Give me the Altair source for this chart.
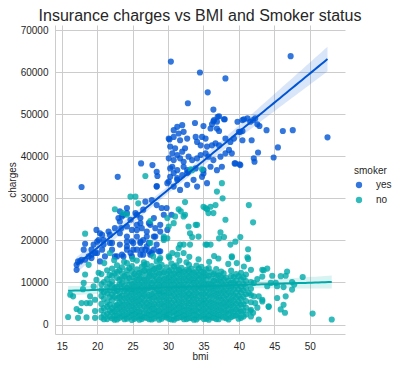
import altair as alt
import numpy as np
import pandas as pd

# ---- data (bmi, charges) ----
smoker_high = [
    (30.4, 62500), (34.5, 59900), (38.1, 58500), (47.3, 63800), (35.6, 55200), (32.8, 52600), (36.4, 51100),
    (37.0, 49400), (37.9, 48800), (36.5, 48600), (39.8, 48200), (40.5, 48600), (41.2, 49000), (42.0, 48600),
    (42.9, 47200), (43.9, 46200), (46.2, 46000), (47.6, 46200), (52.5, 44500), (45.5, 42100), (44.9, 39700),
    (42.7, 40900), (42.1, 39500), (42.2, 38700), (41.8, 43800), (40.5, 43800), (40.5, 46000), (40.2, 45800),
    (39.4, 38300), (40.1, 38100), (26.2, 38300), (27.8, 37900), (30.2, 44000),
    (37.2, 49500), (38.0, 48800), (36.9, 48200), (36.4, 48300), (36.2, 47600),
    (40.7, 48800), (41.6, 48200), (42.3, 49000), (42.6, 47600),
    (33.8, 47900), (35.0, 47200), (36.0, 46600), (36.9, 46600), (37.2, 46000),
    (31.3, 47000), (32.0, 47400), (30.8, 46200), (32.2, 45800), (31.5, 45400),
    (30.1, 44200), (30.8, 44600), (31.7, 43800), (32.7, 44200),
    (33.9, 44600), (34.8, 44600), (35.3, 44200), (34.1, 43400), (34.6, 42600), (35.5, 42300), (36.2, 42600),
    (36.7, 43100), (37.2, 42600), (38.1, 44200), (38.8, 43400), (39.3, 44200), (40.0, 45800),
    (30.3, 42300), (31.0, 41900), (30.6, 40700), (31.3, 40300), (32.0, 41100), (32.4, 41900),
    (30.1, 39500), (30.8, 39100), (31.7, 39500), (32.2, 38700), (32.9, 39900), (33.4, 39100), (34.1, 39500),
    (34.6, 40300), (35.3, 40700), (35.7, 39900), (36.4, 39100), (37.4, 39900), (38.1, 40700), (38.6, 41500),
    (39.0, 40700), (39.5, 38300), (40.2, 37900), (28.4, 36300),
    (30.6, 37500), (31.3, 36700), (32.2, 37500), (32.9, 36300), (33.9, 37100), (35.0, 36700), (36.0, 37500),
    (36.9, 36700), (37.6, 37500),
    (30.3, 35100), (31.3, 34400), (32.7, 36000), (33.6, 34400), (34.8, 35100), (29.9, 33600), (30.8, 32800),
    (31.7, 32000), (32.7, 33200), (34.1, 32800), (35.5, 33600), (35.0, 35900),
    (28.4, 32800), (30.1, 34000), (31.3, 34800), (30.8, 36000), (32.0, 35500), (32.7, 36700), (30.3, 37100),
]

smoker_low = [
    (17.8, 32700), (22.9, 35100), (28.5, 35300), (28.4, 32900),
    (23.2, 26900), (24.2, 26500), (23.5, 25700), (24.7, 24900), (26.1, 25300), (25.4, 26500),
    (19.9, 22500), (20.4, 21700), (21.6, 22100), (18.3, 19200), (19.5, 19000), (19.2, 17800), (20.2, 20100),
    (20.9, 20100), (21.8, 19400), (22.1, 17800), (20.7, 17800), (18.1, 17800),
    (17.3, 15000), (17.1, 14200), (17.8, 15400), (18.8, 16200), (20.0, 17000), (21.1, 16200), (22.5, 16200),
    (23.2, 24500), (24.2, 23300), (24.9, 22500), (25.6, 23700), (26.3, 22900), (27.0, 22100), (27.5, 23700),
    (23.2, 21700), (24.2, 20900), (24.9, 19800), (25.6, 20900), (26.5, 20100), (27.3, 19400), (28.2, 20900),
    (28.9, 22100), (29.4, 20500), (29.9, 22500), (24.2, 18600), (25.1, 17800), (26.3, 17800), (27.3, 17400),
    (28.0, 17800), (28.9, 17400), (27.0, 18600), (26.1, 19400), (23.7, 16200), (24.9, 16200),
    (24.2, 27700), (23.0, 25300), (23.7, 26100), (25.6, 26100), (26.5, 27300), (26.8, 29200), (27.7, 29600),
    (28.4, 28400), (29.1, 27700), (29.8, 27700), (30.5, 26100), (29.4, 26100), (28.0, 25300), (26.1, 24100),
    (27.3, 24100), (28.2, 22900), (28.9, 23700), (22.5, 22900), (23.4, 22900), (25.6, 22500), (20.7, 21300),
    (21.8, 21300), (20.0, 19700), (20.9, 19000), (22.1, 19400), (23.2, 19000), (24.2, 19700), (25.1, 19400),
    (26.1, 19700), (27.0, 20900), (28.0, 20900), (28.4, 19000), (26.8, 17800), (25.6, 17800), (24.2, 17800),
    (23.5, 16600), (26.1, 16600), (27.5, 16600), (20.4, 15000), (19.7, 17000), (19.2, 15800),
    (17.1, 13000), (17.6, 15000), (18.3, 15400), (19.2, 16600), (22.8, 16200), (24.7, 17000), (26.5, 16600),
    (27.7, 17000), (28.7, 17400),
]

# non-smoker main band: (bmi, [charges ...]) read column by column
nonsmoker_columns = [
    (20.6, [1700, 3400, 4900, 6800, 8200, 9600, 12000]),
    (21.4, [1300, 2600, 4200, 5300, 7400, 8900, 10800, 12900]),
    (22.1, [1500, 2900, 3900, 5800, 7100, 9300, 10200, 11600, 13300]),
    (22.8, [1200, 2200, 3600, 4700, 6200, 8000, 9000, 11100, 12500, 14100]),
    (23.5, [1900, 3100, 4400, 5600, 6900, 8500, 9800, 10900, 12200, 13600]),
    (24.2, [1400, 2500, 3800, 5100, 6400, 7600, 8800, 10400, 11800, 12900, 14600]),
    (24.9, [1100, 2300, 3300, 4600, 6000, 7300, 8400, 9700, 11300, 12600, 13900]),
    (25.6, [1700, 2900, 4100, 5400, 6600, 7900, 9200, 10600, 11700, 13100, 15200]),
    (26.3, [1300, 2000, 3500, 4900, 6200, 7400, 8700, 10000, 11200, 12400, 13700]),
    (27.0, [1600, 2700, 4000, 5200, 6700, 8100, 9400, 10700, 12000, 13300, 14400]),
    (27.7, [1200, 2400, 3700, 4800, 6100, 7300, 8800, 9900, 11400, 12700, 13900]),
    (28.4, [1900, 3100, 4300, 5700, 6900, 8300, 9600, 10900, 12300, 13500, 15000]),
    (29.1, [1400, 2600, 3800, 5000, 6400, 7700, 9100, 10300, 11600, 12900, 14200]),
    (29.8, [1700, 2200, 3300, 4600, 5900, 7200, 8500, 9800, 11000, 12200, 13600]),
    (30.5, [1200, 2800, 4000, 5300, 6700, 8000, 9400, 10600, 11900, 13100, 14500]),
    (31.2, [1500, 2500, 3600, 4900, 6300, 7600, 8900, 10200, 11500, 12800, 14100]),
    (31.9, [1800, 3000, 4300, 5600, 7000, 8300, 9600, 11000, 12300, 13500]),
    (32.6, [1300, 2400, 3700, 5100, 6500, 7800, 9000, 10400, 11700, 13000, 14800]),
    (33.3, [1600, 2900, 4100, 5400, 6800, 8100, 9500, 10800, 12100, 13300]),
    (34.0, [1200, 2200, 3500, 4800, 6100, 7500, 8800, 10100, 11400, 12600, 14000]),
    (34.7, [1900, 3200, 4500, 5800, 7200, 8600, 9900, 11200, 12500, 13700]),
    (35.4, [1400, 2600, 3900, 5200, 6600, 7900, 9300, 10600, 11800, 13100]),
    (36.1, [1700, 3000, 4300, 5600, 7000, 8400, 9700, 11000, 12400]),
    (36.8, [1300, 2500, 3800, 5100, 6500, 7800, 9100, 10500, 11800, 13200]),
    (37.5, [2000, 3400, 4700, 6000, 7400, 8700, 10100, 11300, 12600]),
    (38.2, [1500, 2800, 4200, 5500, 6900, 8200, 9600, 11100]),
    (38.9, [1800, 3200, 4600, 5900, 7300, 8700, 10000, 11500, 12800]),
    (39.6, [2200, 3600, 5000, 6400, 7700, 9200, 10500, 12000]),
    (40.3, [1600, 3100, 4700, 6100, 7600, 9000, 10800, 12300]),
    (41.0, [2400, 4000, 5600, 7200, 8700, 10300, 11900]),
    (41.7, [1900, 3500, 5300, 7000, 8500, 10100, 13000]),
]

nonsmoker_columns_b = [
    (20.95, [1250, 2350, 3900, 6100, 7600, 10100]),
    (21.75, [1900, 3300, 4700, 6500, 8100, 9700, 11800]),
    (22.45, [1150, 2100, 3200, 4500, 6600, 7900, 8700, 12200]),
    (23.15, [1600, 2700, 4000, 5200, 6500, 7500, 9500, 10700, 12900]),
    (23.85, [1250, 2200, 3500, 4800, 6300, 7800, 9200, 11500]),
    (24.55, [1800, 2900, 4300, 5600, 6900, 8300, 9500, 11000, 13400]),
    (25.25, [1350, 2500, 3700, 5000, 6300, 7700, 9000, 10300, 12000]),
    (25.95, [1150, 2200, 3100, 4500, 5800, 7100, 8300, 9600, 11000, 12300]),
    (26.65, [1700, 2800, 4200, 5600, 6900, 8100, 9400, 10700, 12800, 14200]),
    (27.35, [1250, 2300, 3400, 4600, 5900, 7000, 8700, 10100, 11400, 12600]),
    (28.05, [1450, 2600, 3600, 4900, 6400, 7700, 8900, 10300, 11700, 13200]),
    (28.75, [1150, 2200, 3300, 4700, 6000, 7300, 8000, 9300, 10600, 12100, 13700]),
    (29.45, [1850, 3000, 4300, 5500, 6800, 7900, 9500, 10800, 12400]),
    (30.15, [1350, 2400, 3500, 4700, 6000, 7400, 8700, 10100, 11300, 12700]),
    (30.85, [1150, 2000, 3100, 4300, 5700, 7000, 8300, 9500, 10800, 12100, 13800]),
    (31.55, [1650, 2800, 4000, 5300, 6600, 7900, 9200, 10500, 11900, 13000]),
    (32.25, [1250, 2200, 3300, 4500, 5900, 7200, 8500, 9800, 11100, 12500]),
    (32.95, [1500, 2600, 3900, 5100, 6300, 7400, 8800, 10200, 11500, 12800, 14200]),
    (33.65, [1150, 2300, 3400, 4700, 6000, 7200, 8500, 9900, 11000, 12300]),
    (34.35, [1700, 2900, 4100, 5300, 6700, 8000, 9300, 10700, 11900, 13300]),
    (35.05, [1300, 2300, 3600, 4900, 6000, 7300, 8600, 9900, 11300, 12400]),
    (35.75, [1150, 2100, 3300, 4600, 5900, 7200, 8500, 9700, 11600, 13400]),
    (36.45, [1600, 2700, 4000, 5300, 6700, 8000, 9200, 10400, 12000]),
    (37.15, [1250, 2300, 3500, 4800, 6200, 7500, 8900, 10300, 11700]),
    (37.85, [1700, 2900, 4100, 5300, 6600, 8000, 9400, 10800, 12200]),
    (38.55, [1200, 2400, 3600, 4900, 6200, 7600, 9000, 10400]),
    (39.25, [2000, 3100, 4400, 5700, 7000, 8400, 9900, 11300]),
    (39.95, [1400, 2700, 4000, 5400, 6800, 8300, 9700, 11500]),
    (40.65, [1900, 3300, 4800, 6600, 8100, 9600, 11200]),
]

nonsmoker_left = [
    (15.9, 1800), (17.1, 3700), (17.6, 3200), (17.3, 1600), (18.5, 1700), (17.8, 5100), (18.5, 5100),
    (19.0, 5100), (18.3, 11900), (18.1, 9900), (18.8, 14200), (20.2, 12300), (19.5, 9100), (19.0, 6700),
    (19.7, 5900), (19.7, 3200), (19.7, 1600), (16.6, 6700), (16.2, 7100), (18.0, 8400), (19.9, 10600),
]

nonsmoker_right = [
    (41.2, 16000), (39.0, 16000), (43.5, 12900), (44.0, 13300), (44.7, 11600), (46.6, 11600), (46.8, 12600),
    (49.0, 11300), (47.5, 10100), (47.8, 9500), (47.5, 8300), (45.4, 9100), (46.3, 8900), (44.0, 9100),
    (45.4, 6300), (46.6, 6700), (46.3, 4700), (45.9, 3600), (46.5, 2800), (44.2, 4200), (43.3, 5900),
    (42.3, 5100), (42.8, 1200), (50.4, 2600), (53.1, 1200), (42.6, 4000), (41.6, 3200), (42.1, 6700),
    (41.4, 7500), (42.1, 9900), (42.6, 10800), (43.3, 11400), (45.2, 9900), (44.5, 9900), (43.3, 13000),
    (45.9, 11500), (42.0, 2800), (42.8, 6700), (43.3, 5500), (44.2, 4300),
]

nonsmoker_upper = [
    (21.0, 14600), (22.4, 15300), (23.8, 14900), (25.0, 15600), (26.6, 14800), (27.9, 16200), (28.8, 15400),
    (30.2, 15900), (31.6, 15200), (33.0, 16100), (34.3, 15500), (35.8, 14900), (37.1, 15700), (38.5, 14400),
    (36.5, 16300),
    (26.8, 35300), (24.7, 30400), (25.4, 30400), (25.8, 28800), (22.5, 27400), (23.6, 26500), (24.2, 26100),
    (27.5, 24600), (29.9, 25300), (32.4, 29100), (31.5, 27400), (31.8, 26900), (31.0, 25700), (32.2, 25700),
    (32.9, 23300), (33.9, 23700), (33.1, 21700), (33.4, 20800), (32.2, 19000), (31.5, 18200), (35.0, 28000),
    (35.5, 27400), (35.5, 19000), (30.1, 23300), (29.9, 20500), (29.4, 20100), (27.5, 19400), (18.3, 21600),
    (37.6, 33600), (36.9, 31600), (37.7, 30000), (35.3, 27700), (36.0, 28000), (36.7, 28400), (36.4, 26500),
    (35.7, 26500), (41.4, 28400), (42.0, 24300), (38.1, 24900), (37.4, 21900), (37.9, 20800), (37.2, 20500),
    (40.2, 20800), (39.5, 19700), (38.8, 19000), (36.0, 19000), (35.3, 19000), (41.3, 17900), (41.3, 15600),
    (40.7, 13800), (39.7, 14600), (39.0, 16200), (33.2, 36900), (34.8, 36900), (33.4, 36700),
    (32.4, 26100), (34.1, 23700), (30.8, 24100), (29.4, 20900), (31.7, 19000), (34.3, 20900), (33.1, 19000),
    (31.3, 16600), (30.1, 16200), (30.6, 17000), (32.2, 17000), (28.9, 15800), (21.8, 17000),
]

groups = ["yes", "no"]
palette = ["#0055d4", "#00aaaa"]

rows = [{"bmi": b, "charges": c, "smoker": "yes"} for b, c in smoker_high + smoker_low]
ns = [(b, c) for b, cs in nonsmoker_columns + nonsmoker_columns_b for c in cs]
ns += nonsmoker_left + nonsmoker_right + nonsmoker_upper
rows += [{"bmi": b, "charges": c, "smoker": "no"} for b, c in ns]
df = pd.DataFrame(rows)


def fit_frame(sub):
    x = sub["bmi"].to_numpy(float)
    y = sub["charges"].to_numpy(float)
    n = len(x)
    slope, icpt = np.polyfit(x, y, 1)
    resid = y - (icpt + slope * x)
    s = np.sqrt((resid ** 2).sum() / (n - 2))
    xm = x.mean()
    sxx = ((x - xm) ** 2).sum()
    grid = np.linspace(x.min(), x.max(), 80)
    yhat = icpt + slope * grid
    se = s * np.sqrt(1.0 / n + (grid - xm) ** 2 / sxx)
    return pd.DataFrame({"bmi": grid, "fit": yhat, "lo": yhat - 1.96 * se, "hi": yhat + 1.96 * se})


xscale = alt.Scale(domain=[14.05, 54.97], nice=False, zero=False)
yscale = alt.Scale(domain=[-2250, 71200], nice=False, zero=False)
color_scale = alt.Scale(domain=groups, range=palette)

xaxis = alt.Axis(values=[15, 20, 25, 30, 35, 40, 45, 50], title="bmi", labelPadding=7, titlePadding=0)
yaxis = alt.Axis(values=[0, 10000, 20000, 30000, 40000, 50000, 60000, 70000], format="d",
                 title="charges", labelPadding=7, titlePadding=3)

layers = []
for g, col in zip(groups, palette):
    sub = df[df["smoker"] == g]
    pts = alt.Chart(sub).mark_circle(size=38, opacity=0.8).encode(
        x=alt.X("bmi:Q", scale=xscale, axis=xaxis),
        y=alt.Y("charges:Q", scale=yscale, axis=yaxis),
        color=alt.Color("smoker:N", scale=color_scale, title="smoker",
                        legend=alt.Legend(orient="none", legendX=299, legendY=141, symbolType="circle",
                                          symbolSize=40, symbolOpacity=0.8, symbolStrokeWidth=0,
                                          labelOffset=12, titlePadding=4, rowPadding=5,
                                          titleFontWeight="normal", titleFontSize=10, labelFontSize=10,
                                          titleColor="#262626", labelColor="#262626",
                                          titleFont="Liberation Sans", labelFont="Liberation Sans")),
    )
    fdf = fit_frame(sub)
    band = alt.Chart(fdf).mark_area(opacity=0.15, color=col).encode(
        x=alt.X("bmi:Q", scale=xscale), y=alt.Y("lo:Q", scale=yscale), y2="hi:Q")
    layers.append(pts)
    layers.append(band)

for g, col in zip(groups, palette):
    fdf = fit_frame(df[df["smoker"] == g])
    line = alt.Chart(fdf).mark_line(color=col, strokeWidth=2).encode(
        x=alt.X("bmi:Q", scale=xscale), y=alt.Y("fit:Q", scale=yscale))
    layers.append(line)

chart = alt.layer(*layers).properties(
    width=290, height=309,
    title=alt.TitleParams("Insurance charges vs BMI and Smoker status", fontSize=16, font="Liberation Sans",
                          fontWeight="normal", color="#262626", anchor="middle", offset=1),
    autosize=alt.AutoSizeParams(type="none"),
    padding={"left": 47, "top": 17, "right": 48, "bottom": 28},
).configure_view(stroke=None).configure_axis(
    domainColor="#cccccc", gridColor="#cccccc", gridWidth=1, domainWidth=1, ticks=False, tickSize=0,
    labelFont="Liberation Sans", titleFont="Liberation Sans", labelFontSize=10, titleFontSize=10,
    labelColor="#262626", titleColor="#262626", titleFontWeight="normal",
)

chart.save("out.html", embed_options={"renderer": "svg", "actions": False})
